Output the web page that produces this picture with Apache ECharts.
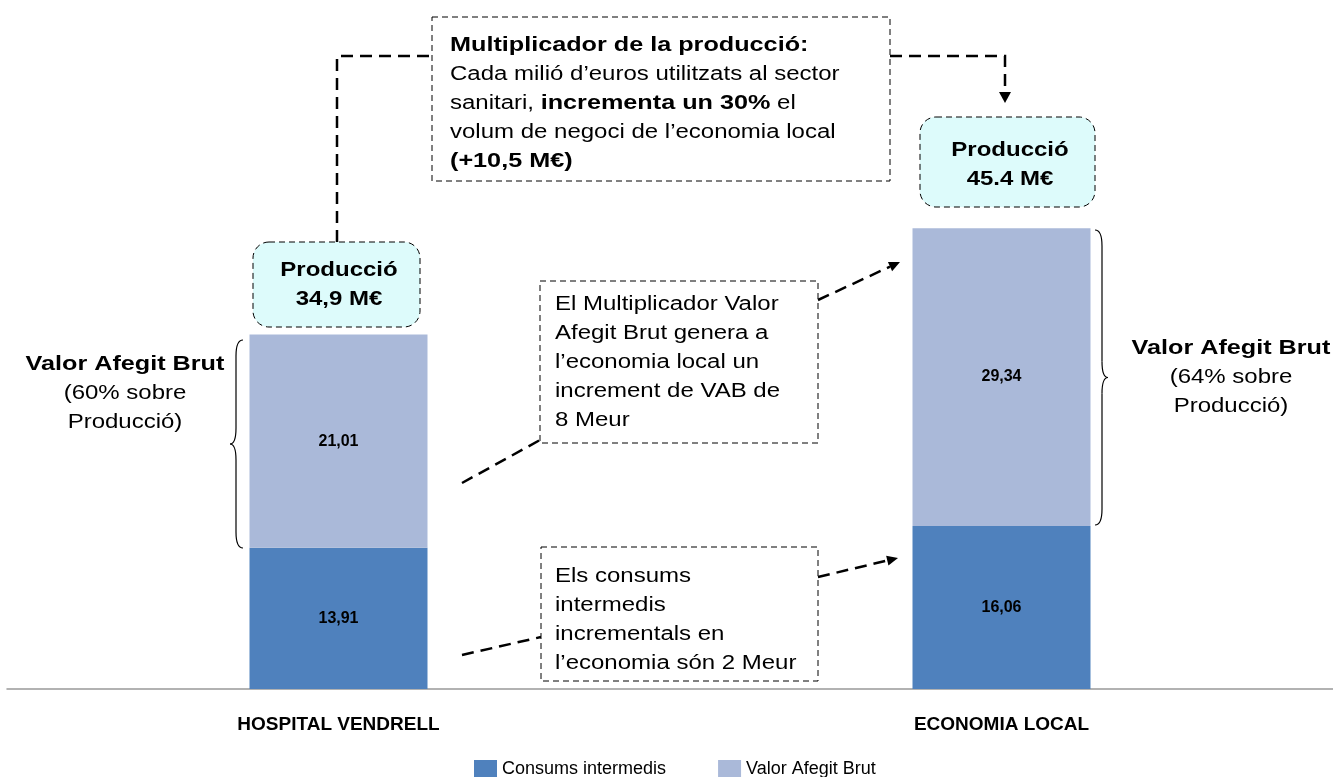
<!DOCTYPE html>
<html>
<head>
<meta charset="utf-8">
<script src="https://cdn.jsdelivr.net/npm/echarts@6/dist/echarts.min.js"></script>
<style>
  html, body { margin: 0; padding: 0; background: #fff; }
  #chart { width: 1333px; height: 777px; }
</style>
</head>
<body>
<div id="chart"></div>
<script>
(function() {
  'use strict';

  var categories = ['HOSPITAL VENDRELL', 'ECONOMIA LOCAL'];
  var consums = [13.91, 16.06];
  var vab = [21.01, 29.34];
  var seriesNames = ['Consums intermedis', 'Valor Afegit Brut'];

  var colorDark = '#4F81BD';
  var colorLight = '#AAB9D9';
  var colorBox = '#DDFBFB';
  var font = 'Liberation Sans, Arial, sans-serif';
  var boxDash = [6, 4];
  var lineDash = [12, 7];
  var stretch = 1.2;

  function fmt(p) { return p.value.toFixed(2).replace('.', ','); }

  function arrow(x1, y1, x2, y2) {
    var dx = x2 - x1, dy = y2 - y1;
    var len = Math.sqrt(dx * dx + dy * dy);
    var ux = dx / len, uy = dy / len;
    var bx = x2 - ux * 11, by = y2 - uy * 11;
    return [
      { type: 'polyline', shape: { points: [[x1, y1], [bx, by]] },
        style: { stroke: '#000', lineWidth: 2.5, lineDash: lineDash, fill: null } },
      { type: 'polygon', shape: { points: [[x2, y2], [bx - uy * 5, by + ux * 5], [bx + uy * 5, by - ux * 5]] },
        style: { fill: '#000' } }
    ];
  }

  function dashed(points) {
    return { type: 'polyline', shape: { points: points },
      style: { stroke: '#000', lineWidth: 2.5, lineDash: lineDash, fill: null } };
  }

  function box(x, y, w, h, r, fill) {
    return { type: 'rect', shape: { x: x, y: y, width: w, height: h, r: r || 0 },
      style: { fill: fill || '#fff', stroke: '#000', lineWidth: 1, lineDash: boxDash } };
  }

  function txt(x, y, text, align, size) {
    var bs = size || 21, ns = size ? size : 20;
    return { type: 'text', x: x, y: y, scaleX: stretch,
      style: { text: text, align: align || 'left', verticalAlign: 'top', fill: '#000',
        font: ns + 'px ' + font, lineHeight: 29, rich: {
          b: { font: 'bold ' + bs + 'px ' + font, lineHeight: 29, fill: '#000' },
          n: { font: ns + 'px ' + font, lineHeight: 29, fill: '#000' }
        } } };
  }

  function brace(x, y1, y2, dir) {
    var m = (y1 + y2) / 2;
    var xi = x + dir * 7, xt = x + dir * 13, c = 16;
    var st = { stroke: '#000', lineWidth: 1.2, fill: null };
    return [
      { type: 'bezierCurve', shape: { x1: x, y1: y1, cpx1: xi, cpy1: y1, x2: xi, y2: y1 + c }, style: st },
      { type: 'line', shape: { x1: xi, y1: y1 + c, x2: xi, y2: m - c }, style: st },
      { type: 'bezierCurve', shape: { x1: xi, y1: m - c, cpx1: xi, cpy1: m, x2: xt, y2: m }, style: st },
      { type: 'bezierCurve', shape: { x1: xt, y1: m, cpx1: xi, cpy1: m, x2: xi, y2: m + c }, style: st },
      { type: 'line', shape: { x1: xi, y1: m + c, x2: xi, y2: y2 - c }, style: st },
      { type: 'bezierCurve', shape: { x1: xi, y1: y2 - c, cpx1: xi, cpy1: y2, x2: x, y2: y2 }, style: st }
    ];
  }

  var graphics = [];
  // connector from hospital production to economy production
  graphics.push(dashed([[337, 242], [337, 56], [432, 56]]));
  graphics.push(dashed([[890, 56], [1005, 56], [1005, 92]]));
  graphics.push({ type: 'polygon', shape: { points: [[999, 92], [1011, 92], [1005, 103]] }, style: { fill: '#000' } });

  // top box
  graphics.push(box(432, 17, 458, 164));
  graphics.push(txt(450, 31,
    '{b|Multiplicador de la producció:}\n' +
    '{n|Cada milió d\u2019euros utilitzats al sector}\n' +
    '{n|sanitari, }{b|incrementa un 30%}{n| el}\n' +
    '{n|volum de negoci de l\u2019economia local}\n' +
    '{b|(+10,5 M\u20ac)}'));

  // production boxes
  graphics.push(box(253, 242, 167, 85, 16, colorBox));
  graphics.push(txt(339, 256, '{b|Producció}\n{b|34,9 M\u20ac}', 'center', 20));
  graphics.push(box(920, 117, 175, 90, 16, colorBox));
  graphics.push(txt(1010, 136, '{b|Producció}\n{b|45.4 M\u20ac}', 'center', 20));

  // braces + labels
  graphics = graphics.concat(brace(243, 340, 548, -1));
  graphics.push(txt(125, 350, '{b|Valor Afegit Brut}\n{n|(60% sobre}\n{n|Producció)}', 'center'));
  graphics = graphics.concat(brace(1095, 230, 525, 1));
  graphics.push(txt(1231, 334, '{b|Valor Afegit Brut}\n{n|(64% sobre}\n{n|Producció)}', 'center'));

  // middle boxes
  graphics.push(dashed([[462, 483], [540, 440]]));
  graphics.push(box(540, 281, 278, 162));
  graphics.push(txt(555, 290, '{n|El Multiplicador Valor}\n{n|Afegit Brut genera a}\n{n|l\u2019economia local un}\n{n|increment de VAB de}\n{n|8 Meur}'));
  graphics = graphics.concat(arrow(818, 300, 900, 262));

  graphics.push(dashed([[462, 655], [541, 637]]));
  graphics.push(box(541, 547, 277, 134));
  graphics.push(txt(555, 562, '{n|Els consums}\n{n|intermedis}\n{n|incrementals en}\n{n|l\u2019economia són 2 Meur}'));
  graphics = graphics.concat(arrow(818, 577, 898, 558));

  var chart = echarts.init(document.getElementById('chart'));
  chart.setOption({
    animation: false,
    textStyle: { fontFamily: font },
    grid: { left: 7, width: 1331, top: 181.5, bottom: 88 },
    legend: {
      data: seriesNames,
      left: 469,
      top: 755,
      icon: 'rect',
      itemWidth: 23,
      itemHeight: 18,
      itemGap: 52,
      textStyle: { color: '#000', fontSize: 18, fontFamily: font }
    },
    xAxis: {
      type: 'category',
      data: categories,
      axisLine: { lineStyle: { color: '#999', width: 1.5 } },
      axisTick: { show: false },
      axisLabel: { color: '#000', fontSize: 19, fontWeight: 'bold', margin: 26 }
    },
    yAxis: {
      type: 'value',
      min: 0,
      max: 50,
      show: false,
      splitLine: { show: false }
    },
    series: [
      {
        name: seriesNames[0],
        type: 'bar',
        stack: 'total',
        barWidth: 178,
        data: consums,
        itemStyle: { color: colorDark },
        label: { show: true, position: 'inside', formatter: fmt, color: '#000', fontWeight: 'bold', fontSize: 16 }
      },
      {
        name: seriesNames[1],
        type: 'bar',
        stack: 'total',
        barWidth: 178,
        data: vab,
        itemStyle: { color: colorLight },
        label: { show: true, position: 'inside', formatter: fmt, color: '#000', fontWeight: 'bold', fontSize: 16 }
      }
    ],
    graphic: graphics
  });
})();
</script>
</body>
</html>
